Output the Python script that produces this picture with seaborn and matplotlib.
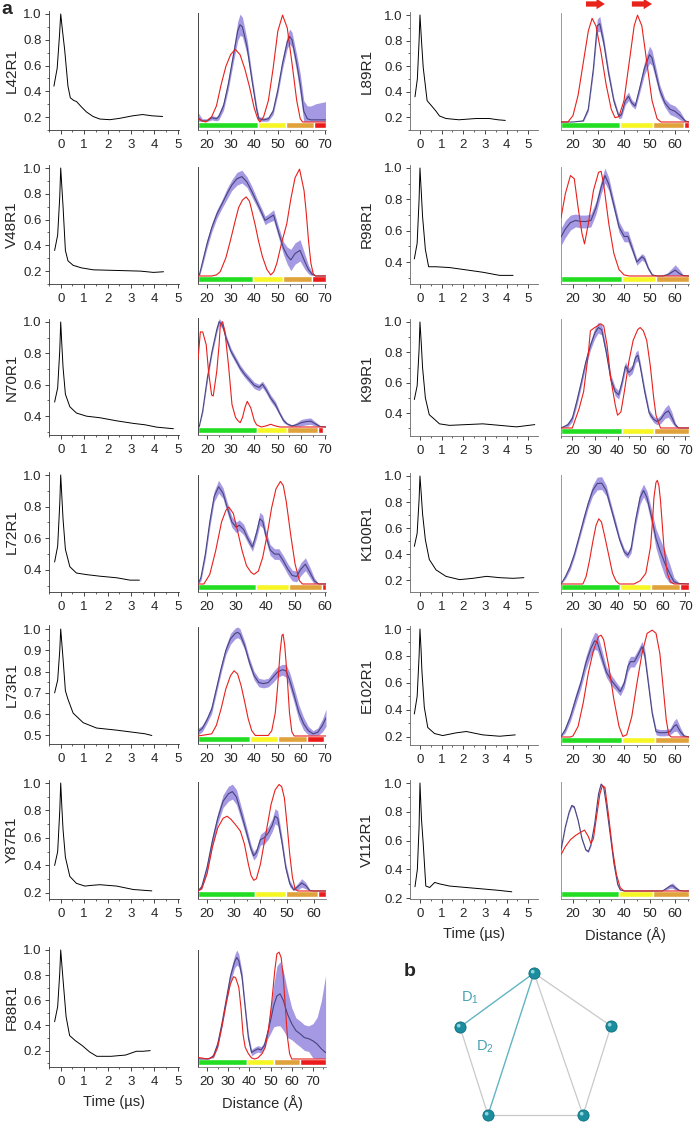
import matplotlib
matplotlib.use("Agg")
import matplotlib.pyplot as plt
from matplotlib.ticker import MultipleLocator
import numpy as np
import seaborn as sns

sns.set_style("ticks")
plt.rcParams['font.family'] = ['Liberation Sans', 'DejaVu Sans']
plt.rcParams['mathtext.default'] = 'regular'

W, H = 697, 1122

# ---------------- data ----------------
# time traces (t in us, normalised signal)
L42_t = [-0.29, -0.15, -0.05, 0.0, 0.07, 0.17, 0.31, 0.41, 0.55, 0.68, 0.88, 1.1, 1.38, 1.67, 2.1, 2.5, 3.07, 3.5, 3.9, 4.35]
L42_v = [0.44, 0.58, 0.84, 1.0, 0.88, 0.72, 0.44, 0.35, 0.33, 0.32, 0.28, 0.24, 0.205, 0.185, 0.18, 0.19, 0.21, 0.22, 0.21, 0.205]
V48_t = [-0.26, -0.13, -0.04, 0.0, 0.05, 0.1, 0.2, 0.31, 0.53, 0.89, 1.39, 2.4, 3.4, 3.96, 4.39]
V48_v = [0.36, 0.48, 0.78, 1.0, 0.85, 0.7, 0.36, 0.28, 0.245, 0.225, 0.21, 0.205, 0.2, 0.19, 0.195]
N70_t = [-0.26, -0.13, -0.04, 0.0, 0.05, 0.1, 0.2, 0.39, 0.67, 1.1, 1.67, 2.4, 3.1, 3.6, 4.1, 4.81]
N70_v = [0.49, 0.58, 0.82, 1.0, 0.85, 0.71, 0.54, 0.46, 0.42, 0.40, 0.39, 0.37, 0.354, 0.345, 0.33, 0.32]
L72_t = [-0.26, -0.13, -0.04, 0.0, 0.05, 0.1, 0.2, 0.39, 0.67, 1.1, 1.67, 2.39, 2.96, 3.36]
L72_v = [0.45, 0.55, 0.82, 1.0, 0.86, 0.72, 0.53, 0.42, 0.38, 0.37, 0.36, 0.35, 0.335, 0.335]
L73_t = [-0.26, -0.13, -0.04, 0.0, 0.05, 0.1, 0.2, 0.31, 0.53, 0.96, 1.53, 2.39, 3.1, 3.6, 3.89]
L73_v = [0.70, 0.76, 0.9, 1.0, 0.93, 0.86, 0.71, 0.67, 0.605, 0.56, 0.535, 0.525, 0.515, 0.508, 0.5]
Y87_t = [-0.26, -0.13, -0.04, 0.0, 0.05, 0.1, 0.2, 0.39, 0.67, 1.03, 1.3, 1.67, 2.39, 3.1, 3.89]
Y87_v = [0.40, 0.5, 0.8, 1.0, 0.82, 0.66, 0.46, 0.32, 0.27, 0.25, 0.255, 0.26, 0.25, 0.225, 0.215]
F88_t = [-0.26, -0.13, -0.04, 0.0, 0.05, 0.11, 0.23, 0.38, 0.62, 0.92, 1.23, 1.54, 2.15, 2.77, 3.23, 3.5, 3.82]
F88_v = [0.43, 0.55, 0.82, 1.0, 0.88, 0.74, 0.47, 0.32, 0.28, 0.24, 0.19, 0.155, 0.155, 0.165, 0.195, 0.195, 0.2]
L89_t = [-0.23, -0.12, -0.04, 0.0, 0.07, 0.15, 0.33, 0.53, 0.73, 0.9, 1.2, 1.8, 2.6, 3.2, 3.6, 3.94]
L89_v = [0.36, 0.5, 0.8, 1.0, 0.8, 0.59, 0.33, 0.29, 0.25, 0.21, 0.19, 0.18, 0.19, 0.19, 0.18, 0.175]
R98_t = [-0.26, -0.13, -0.04, 0.0, 0.06, 0.12, 0.25, 0.4, 0.74, 1.36, 2.14, 2.9, 3.68, 4.3]
R98_v = [0.42, 0.52, 0.8, 1.0, 0.85, 0.69, 0.48, 0.37, 0.37, 0.365, 0.35, 0.335, 0.315, 0.315]
K99_t = [-0.26, -0.13, -0.04, 0.0, 0.06, 0.12, 0.25, 0.43, 0.67, 0.9, 1.36, 2.14, 2.9, 3.68, 4.46, 5.3]
K99_v = [0.49, 0.58, 0.82, 1.0, 0.86, 0.70, 0.5, 0.39, 0.36, 0.33, 0.32, 0.325, 0.33, 0.32, 0.31, 0.325]
K100_t = [-0.26, -0.13, -0.04, 0.0, 0.06, 0.12, 0.25, 0.43, 0.74, 1.2, 1.83, 2.45, 3.07, 3.68, 4.3, 4.8]
K100_v = [0.46, 0.56, 0.82, 1.0, 0.86, 0.71, 0.51, 0.36, 0.28, 0.23, 0.205, 0.215, 0.23, 0.22, 0.215, 0.22]
E102_t = [-0.26, -0.13, -0.04, 0.0, 0.05, 0.09, 0.2, 0.36, 0.67, 1.05, 1.67, 2.14, 2.9, 3.68, 4.4]
E102_v = [0.37, 0.5, 0.8, 1.0, 0.85, 0.69, 0.42, 0.27, 0.225, 0.21, 0.23, 0.24, 0.215, 0.205, 0.215]
V112_t = [-0.23, -0.12, -0.04, 0.0, 0.07, 0.15, 0.27, 0.45, 0.68, 0.9, 1.36, 2.12, 2.88, 3.64, 4.24]
V112_v = [0.28, 0.4, 0.7, 1.0, 0.75, 0.58, 0.285, 0.275, 0.31, 0.30, 0.285, 0.275, 0.265, 0.255, 0.245]

# distance distributions: measured mean (m) with band (e), model in red (rr, ry), class bar edges
L42_r = [16.2, 18, 20, 22, 24, 25, 27, 29, 31, 33, 34, 35, 37, 39, 41, 42, 44, 46, 48, 50, 52, 54, 55, 56, 58, 59.5, 61, 62.5, 64, 66, 68, 70.2]
L42_m = [0.04, 0.01, 0.01, 0.04, 0.03, 0.05, 0.15, 0.35, 0.6, 0.85, 0.91, 0.89, 0.7, 0.4, 0.12, 0.03, 0.02, 0.03, 0.1, 0.3, 0.55, 0.75, 0.8, 0.77, 0.55, 0.35, 0.1, 0.03, 0.02, 0.02, 0.02, 0.02]
L42_e = [0.05, 0.02, 0.02, 0.02, 0.02, 0.03, 0.04, 0.05, 0.06, 0.09, 0.1, 0.09, 0.07, 0.05, 0.04, 0.02, 0.02, 0.02, 0.03, 0.04, 0.05, 0.06, 0.07, 0.07, 0.08, 0.1, 0.1, 0.12, 0.13, 0.15, 0.16, 0.17]
L42_rr = [16.2, 18, 19.5, 22, 24, 26, 28, 30, 32, 34, 36, 38, 40, 41.5, 42.4, 44, 46, 48, 50, 52, 54, 56, 58, 59.5, 60.5, 70.2]
L42_ry = [0.03, 0.01, 0.0, 0.05, 0.15, 0.35, 0.52, 0.63, 0.68, 0.63, 0.5, 0.33, 0.13, 0.03, 0.0, 0.05, 0.2, 0.5, 0.85, 1.0, 0.88, 0.55, 0.2, 0.03, 0.0, 0.0]
L42_bar = [16.2, 41.6, 53.5, 65.3, 70.2]

V48_r = [16.8, 18, 20, 22, 24.2, 26.5, 28.5, 30.5, 32.7, 34.8, 36.9, 39, 41.1, 43, 44.6, 46, 48.2, 50.3, 52.4, 54, 55.5, 57.3, 59.4, 61.5, 63, 64.4, 66, 70.2]
V48_m = [0.01, 0.12, 0.3, 0.45, 0.58, 0.68, 0.77, 0.85, 0.91, 0.93, 0.88, 0.79, 0.69, 0.6, 0.52, 0.54, 0.57, 0.41, 0.26, 0.19, 0.15, 0.21, 0.24, 0.13, 0.06, 0.02, 0.0, 0.0]
V48_e = [0.01, 0.03, 0.04, 0.04, 0.04, 0.04, 0.05, 0.05, 0.06, 0.06, 0.05, 0.05, 0.04, 0.04, 0.04, 0.04, 0.05, 0.05, 0.06, 0.08, 0.1, 0.1, 0.1, 0.07, 0.04, 0.02, 0.0, 0.0]
V48_rr = [16.2, 22, 24, 25.6, 28, 29.9, 32, 33.4, 35, 36.6, 38, 39, 40.5, 41.8, 43.5, 45.4, 47, 48.3, 49.6, 51.5, 53.8, 55.5, 57.3, 59.2, 61.1, 62, 63, 64, 65, 66, 70.2]
V48_ry = [0.0, 0.0, 0.01, 0.04, 0.17, 0.33, 0.52, 0.64, 0.71, 0.74, 0.7, 0.61, 0.47, 0.33, 0.18, 0.06, 0.01, 0.04, 0.12, 0.3, 0.49, 0.72, 0.92, 1.0, 0.8, 0.6, 0.33, 0.12, 0.02, 0.0, 0.0]
V48_bar = [16.2, 39.4, 52, 64.5, 70.2]

N70_r = [16.5, 18, 20, 22, 24, 25, 26.5, 28, 30, 32, 34, 36, 38, 40, 42, 43.5, 45, 47, 49, 51, 52.5, 54, 56, 58, 60, 62, 64, 66, 68, 70.5]
N70_m = [0.0, 0.15, 0.46, 0.71, 0.91, 0.985, 0.95, 0.83, 0.71, 0.63, 0.55, 0.49, 0.44, 0.39, 0.37, 0.40, 0.35, 0.27, 0.21, 0.12, 0.06, 0.03, 0.01, 0.02, 0.04, 0.05, 0.055, 0.03, 0.005, 0.0]
N70_e = [0.0, 0.02, 0.03, 0.03, 0.03, 0.03, 0.03, 0.03, 0.03, 0.03, 0.03, 0.03, 0.03, 0.03, 0.03, 0.03, 0.03, 0.03, 0.03, 0.02, 0.02, 0.01, 0.01, 0.02, 0.03, 0.03, 0.03, 0.02, 0.01, 0.0]
N70_rr = [16, 17, 18, 19.5, 20.5, 21.8, 22.5, 24, 25, 25.5, 26.5, 27.5, 29, 30.5, 32, 33, 34, 35, 36, 37, 38.5, 40, 41, 43, 45, 47, 49, 51, 70.5]
N70_ry = [0.63, 0.89, 0.89, 0.77, 0.52, 0.30, 0.29, 0.52, 0.77, 0.95, 0.985, 0.89, 0.58, 0.21, 0.09, 0.06, 0.04, 0.09, 0.18, 0.24, 0.18, 0.06, 0.02, 0.0, 0.01, 0.025, 0.01, 0.0, 0.0]
N70_bar = [16, 41, 54, 67, 69.5]

L72_r = [17, 18, 19.5, 21, 22.5, 24, 25.5, 27, 28.5, 30, 31, 32.5, 34, 35.5, 37, 38, 39, 40, 41.5, 43, 44.5, 46, 47.5, 49, 50.5, 52, 53.5, 55, 56.5, 58, 60.5]
L72_m = [0.0, 0.06, 0.28, 0.58, 0.82, 0.91, 0.85, 0.71, 0.58, 0.53, 0.55, 0.51, 0.42, 0.345, 0.49, 0.61, 0.585, 0.46, 0.32, 0.28, 0.28, 0.215, 0.14, 0.08, 0.07, 0.14, 0.185, 0.11, 0.03, 0.0, 0.0]
L72_e = [0.0, 0.03, 0.04, 0.05, 0.05, 0.06, 0.05, 0.05, 0.05, 0.05, 0.05, 0.05, 0.04, 0.04, 0.05, 0.06, 0.06, 0.05, 0.05, 0.05, 0.05, 0.05, 0.05, 0.05, 0.05, 0.06, 0.06, 0.05, 0.03, 0.0, 0.0]
L72_rr = [17, 19, 21, 23, 25, 26.5, 27.5, 29, 30.5, 32, 33.5, 35, 36, 37.5, 39, 40.5, 42, 43.5, 45, 46, 47, 48.5, 50, 51.5, 52.5, 60.5]
L72_ry = [0.0, 0.0, 0.09, 0.31, 0.58, 0.69, 0.72, 0.66, 0.49, 0.31, 0.17, 0.11, 0.09, 0.12, 0.25, 0.46, 0.71, 0.89, 0.96, 0.92, 0.77, 0.46, 0.185, 0.03, 0.0, 0.0]
L72_bar = [17, 36.6, 47.8, 59.3, 60.5]

L73_r = [16.2, 18, 20, 22, 24, 26, 28, 30, 32, 33, 34, 36, 38, 40, 42, 44, 46, 48, 50, 52, 53.5, 55, 57, 59, 61, 63, 65, 67, 69, 70.5]
L73_m = [0.04, 0.07, 0.15, 0.25, 0.44, 0.63, 0.80, 0.91, 0.96, 0.97, 0.955, 0.845, 0.69, 0.565, 0.50, 0.49, 0.50, 0.55, 0.60, 0.62, 0.61, 0.53, 0.38, 0.22, 0.115, 0.05, 0.02, 0.035, 0.1, 0.17]
L73_e = [0.03, 0.03, 0.03, 0.04, 0.04, 0.04, 0.04, 0.05, 0.05, 0.05, 0.05, 0.04, 0.04, 0.04, 0.04, 0.04, 0.04, 0.05, 0.05, 0.05, 0.06, 0.07, 0.07, 0.07, 0.06, 0.04, 0.03, 0.04, 0.06, 0.08]
L73_rr = [16.2, 22, 24, 26, 28, 30, 31.5, 33, 34.5, 36, 37.5, 39, 40.5, 46, 47.5, 49, 50, 51, 51.8, 52.3, 53, 54, 55, 56, 57, 70.5]
L73_ry = [0.0, 0.02, 0.1, 0.255, 0.44, 0.565, 0.61, 0.58, 0.47, 0.32, 0.16, 0.05, 0.005, 0.005, 0.05, 0.22, 0.47, 0.78, 0.94, 0.953, 0.845, 0.565, 0.22, 0.04, 0.0, 0.0]
L73_bar = [16.2, 38.2, 50, 62.4, 69.6]

Y87_r = [16.6, 18, 20, 22, 24, 26, 28, 29.5, 31, 33, 35, 36.5, 37.5, 38.5, 40, 41.5, 43, 44.5, 45.5, 46.5, 48, 49.5, 51, 52.5, 54, 55.5, 57, 58.5, 60, 64.5]
Y87_m = [0.0, 0.04, 0.22, 0.47, 0.68, 0.84, 0.91, 0.93, 0.88, 0.71, 0.53, 0.39, 0.33, 0.36, 0.48, 0.50, 0.545, 0.62, 0.70, 0.68, 0.47, 0.22, 0.07, 0.01, 0.04, 0.075, 0.05, 0.005, 0.0, 0.0]
Y87_e = [0.0, 0.02, 0.04, 0.05, 0.05, 0.06, 0.07, 0.07, 0.07, 0.06, 0.05, 0.04, 0.04, 0.04, 0.05, 0.06, 0.06, 0.06, 0.07, 0.07, 0.05, 0.04, 0.03, 0.02, 0.03, 0.04, 0.03, 0.01, 0.0, 0.0]
Y87_rr = [16.6, 18, 20, 22, 24, 26, 27.5, 29, 31, 32.5, 34, 35.5, 36.5, 37.5, 38.5, 40, 42, 44, 45.5, 47, 48, 49, 50, 51, 52, 53, 54, 64.5]
Y87_ry = [0.0, 0.02, 0.16, 0.41, 0.59, 0.68, 0.70, 0.67, 0.61, 0.56, 0.44, 0.25, 0.145, 0.1, 0.115, 0.25, 0.53, 0.81, 0.945, 0.997, 0.975, 0.87, 0.62, 0.345, 0.13, 0.02, 0.0, 0.0]
Y87_bar = [16.6, 38, 49.6, 61.6, 64.5]

F88_r = [15.7, 18, 21, 23, 25, 27, 29, 31, 33, 34, 35, 36.5, 38, 39.5, 41, 42.5, 44, 45.5, 47, 48.5, 50, 51.5, 53, 54.5, 56, 58, 60, 62, 64, 66, 68, 70, 72, 74, 76]
F88_m = [0.0, 0.0, 0.0, 0.03, 0.14, 0.33, 0.55, 0.77, 0.91, 0.95, 0.92, 0.77, 0.48, 0.2, 0.06, 0.08, 0.095, 0.085, 0.125, 0.235, 0.36, 0.5, 0.59, 0.61, 0.55, 0.42, 0.33, 0.265, 0.235, 0.2, 0.19, 0.17, 0.14, 0.095, 0.06]
F88_e = [0.01, 0.01, 0.01, 0.02, 0.03, 0.03, 0.04, 0.05, 0.06, 0.07, 0.06, 0.05, 0.04, 0.04, 0.03, 0.03, 0.03, 0.03, 0.03, 0.05, 0.12, 0.2, 0.28, 0.3, 0.28, 0.22, 0.15, 0.12, 0.12, 0.12, 0.12, 0.16, 0.25, 0.45, 0.72]
F88_rr = [15.7, 20, 23, 25, 27, 29, 31, 32.5, 33.5, 35, 36, 37, 38, 39.5, 41, 42.5, 44, 46, 47.5, 49, 50.5, 52, 53, 54, 55, 56, 57, 58, 59, 60, 76]
F88_ry = [0.015, 0.0, 0.02, 0.11, 0.3, 0.52, 0.7, 0.77, 0.76, 0.67, 0.48, 0.23, 0.11, 0.05, 0.01, 0.0, 0.01, 0.05, 0.11, 0.27, 0.52, 0.83, 0.985, 1.0, 0.95, 0.77, 0.48, 0.2, 0.05, 0.0, 0.0]
F88_bar = [15.7, 39, 51.4, 63.8, 76]

L89_r = [15.3, 20, 24, 26, 28, 29.5, 30.5, 32, 34, 36, 38, 39, 40.5, 41.8, 43, 44.4, 46, 48, 50, 51, 52.5, 54, 56, 58, 60, 62, 64, 65.5]
L89_m = [0.0, 0.0, 0.01, 0.12, 0.5, 0.9, 0.92, 0.75, 0.45, 0.2, 0.05, 0.07, 0.2, 0.24, 0.18, 0.15, 0.3, 0.5, 0.63, 0.6, 0.45, 0.3, 0.18, 0.12, 0.1, 0.06, 0.01, 0.0]
L89_e = [0.0, 0.0, 0.01, 0.02, 0.04, 0.06, 0.07, 0.05, 0.04, 0.03, 0.02, 0.03, 0.04, 0.04, 0.03, 0.03, 0.04, 0.06, 0.08, 0.07, 0.06, 0.05, 0.04, 0.05, 0.05, 0.04, 0.01, 0.0]
L89_rr = [15.3, 18, 20, 22, 24, 26, 27.5, 29, 31, 33, 35, 36.5, 38, 40, 42, 44, 45.3, 47, 49, 51, 53, 54.5, 65.5]
L89_ry = [0.0, 0.0, 0.06, 0.25, 0.55, 0.85, 0.97, 0.9, 0.65, 0.35, 0.12, 0.04, 0.05, 0.2, 0.55, 0.9, 1.0, 0.9, 0.55, 0.2, 0.03, 0.0, 0.0]
L89_bar = [15.3, 38.4, 51.4, 63.5, 65.5]
L89_shift = [(25.1, 32.5), (43.1, 51.0)]

R98_r = [15.3, 17, 19, 21, 23, 25, 27, 29, 31, 32.5, 34, 36, 38, 40, 41.5, 43, 45, 47, 48, 49.5, 51, 53, 55, 57, 59, 60, 61.5, 63, 65.3]
R98_m = [0.365, 0.44, 0.50, 0.52, 0.51, 0.51, 0.52, 0.64, 0.83, 0.94, 0.86, 0.66, 0.46, 0.37, 0.37, 0.27, 0.13, 0.18, 0.16, 0.07, 0.01, 0.0, 0.0, 0.01, 0.04, 0.055, 0.025, 0.005, 0.0]
R98_e = [0.08, 0.08, 0.07, 0.06, 0.06, 0.06, 0.06, 0.06, 0.06, 0.07, 0.06, 0.05, 0.05, 0.05, 0.05, 0.04, 0.03, 0.03, 0.03, 0.02, 0.01, 0.0, 0.01, 0.02, 0.04, 0.05, 0.04, 0.01, 0.0]
R98_rr = [15.3, 17, 19, 20.5, 22, 23.5, 24.5, 26, 28, 30, 31, 32, 34, 36, 38, 40, 42, 65.3]
R98_ry = [0.545, 0.77, 0.94, 0.91, 0.64, 0.40, 0.30, 0.49, 0.80, 0.97, 0.98, 0.86, 0.49, 0.21, 0.06, 0.01, 0.0, 0.0]
R98_bar = [15.3, 39.2, 52.5, 65.3]

K99_r = [15, 18, 20, 22, 24, 26, 28, 30, 31.5, 33, 35, 37, 39, 40.5, 42, 43.5, 45, 46.5, 48, 49, 50, 52, 54, 56, 57.5, 59, 61, 62.5, 64, 65.5, 67, 71.5]
K99_m = [0.0, 0.03, 0.09, 0.25, 0.43, 0.62, 0.77, 0.89, 0.94, 0.92, 0.71, 0.46, 0.34, 0.31, 0.43, 0.58, 0.52, 0.55, 0.66, 0.68, 0.58, 0.34, 0.14, 0.08, 0.06, 0.08, 0.14, 0.16, 0.1, 0.03, 0.0, 0.0]
K99_e = [0.0, 0.02, 0.03, 0.04, 0.04, 0.04, 0.04, 0.05, 0.05, 0.05, 0.04, 0.04, 0.04, 0.04, 0.04, 0.04, 0.04, 0.04, 0.05, 0.05, 0.04, 0.04, 0.03, 0.03, 0.03, 0.04, 0.05, 0.06, 0.05, 0.02, 0.0, 0.0]
K99_rr = [15, 20, 21, 23, 25, 27, 28, 29.9, 32.6, 33.9, 35.4, 37, 39, 40, 41.5, 43, 45, 46.9, 48.9, 50, 51.4, 52.9, 54.5, 56, 57, 58, 59, 71.5]
K99_ry = [0.0, 0.0, 0.06, 0.18, 0.34, 0.68, 0.91, 0.94, 0.975, 0.955, 0.77, 0.46, 0.215, 0.12, 0.15, 0.34, 0.62, 0.82, 0.92, 0.94, 0.91, 0.82, 0.58, 0.28, 0.12, 0.06, 0.0, 0.0]
K99_bar = [15, 42, 56, 71.5]

K100_r = [15, 17, 19, 21, 23, 25, 27, 29, 31, 33, 35, 37, 39, 41, 43, 44.5, 46, 48, 50, 51.5, 53, 55, 57, 59, 61, 63, 65, 67, 71.5]
K100_m = [0.0, 0.07, 0.16, 0.285, 0.44, 0.6, 0.75, 0.875, 0.94, 0.944, 0.875, 0.72, 0.565, 0.41, 0.30, 0.27, 0.33, 0.6, 0.81, 0.875, 0.81, 0.63, 0.425, 0.30, 0.19, 0.1, 0.02, 0.005, 0.0]
K100_e = [0.0, 0.02, 0.03, 0.03, 0.03, 0.04, 0.04, 0.05, 0.06, 0.06, 0.05, 0.04, 0.04, 0.03, 0.03, 0.03, 0.04, 0.05, 0.06, 0.06, 0.06, 0.07, 0.09, 0.11, 0.12, 0.09, 0.04, 0.01, 0.0]
K100_rr = [15, 24.7, 26.1, 27.6, 29.1, 30.5, 31.7, 32.9, 34.3, 35.8, 37.8, 39.3, 40.8, 47.3, 50, 52.5, 54.6, 55.5, 56.1, 57, 57.6, 58.3, 59, 60.5, 62, 63.4, 65, 71.5]
K100_ry = [0.0, 0.0, 0.07, 0.22, 0.4, 0.55, 0.61, 0.58, 0.45, 0.3, 0.1, 0.03, 0.0, 0.0, 0.03, 0.1, 0.35, 0.6, 0.81, 0.95, 0.97, 0.92, 0.78, 0.35, 0.1, 0.02, 0.0, 0.0]
K100_bar = [15, 41, 54.6, 67.8, 71.5]

E102_r = [15.3, 17, 19, 21, 23, 25, 27, 28.5, 29.5, 31, 33, 35, 37, 38.5, 40, 41.5, 42.5, 44, 45.5, 47, 48, 49.5, 51, 52.5, 54, 56, 58, 59.5, 60.5, 62, 63.5, 65.3]
E102_m = [0.005, 0.07, 0.19, 0.35, 0.5, 0.69, 0.83, 0.9, 0.89, 0.77, 0.61, 0.53, 0.47, 0.425, 0.5, 0.66, 0.705, 0.705, 0.77, 0.845, 0.78, 0.5, 0.22, 0.05, 0.04, 0.04, 0.05, 0.1, 0.115, 0.05, 0.01, 0.0]
E102_e = [0.01, 0.03, 0.04, 0.05, 0.05, 0.06, 0.07, 0.08, 0.08, 0.07, 0.05, 0.05, 0.04, 0.04, 0.04, 0.05, 0.05, 0.05, 0.05, 0.05, 0.05, 0.04, 0.03, 0.03, 0.03, 0.03, 0.03, 0.05, 0.06, 0.04, 0.01, 0.0]
E102_rr = [15.3, 19, 20, 22, 24, 26, 28, 30, 31, 32, 34, 36, 38, 39.5, 41, 43, 45, 47, 49, 51, 52.5, 54, 55.5, 56.5, 57.5, 58.5, 65.3]
E102_ry = [0.0, 0.0, 0.01, 0.1, 0.32, 0.6, 0.81, 0.94, 0.953, 0.91, 0.66, 0.35, 0.1, 0.005, 0.02, 0.19, 0.5, 0.78, 0.97, 1.0, 0.97, 0.78, 0.41, 0.16, 0.02, 0.0, 0.0]
E102_bar = [15.3, 39.2, 52.2, 65.3]

V112_r = [15.3, 17, 18.5, 19.5, 20.5, 22, 23.5, 25, 26, 27, 28.5, 30, 31, 32, 33, 34.5, 36, 37.5, 38.5, 40, 55, 56, 58, 59, 60, 61.5, 63, 65.3]
V112_m = [0.385, 0.6, 0.74, 0.80, 0.785, 0.66, 0.49, 0.385, 0.37, 0.43, 0.63, 0.91, 1.0, 0.97, 0.815, 0.54, 0.26, 0.06, 0.01, 0.0, 0.0, 0.015, 0.046, 0.05, 0.03, 0.006, 0.0, 0.0]
V112_e = [0.01, 0.01, 0.012, 0.012, 0.012, 0.01, 0.01, 0.01, 0.01, 0.01, 0.01, 0.012, 0.012, 0.012, 0.01, 0.01, 0.01, 0.01, 0.005, 0.0, 0.0, 0.01, 0.02, 0.025, 0.02, 0.01, 0.0, 0.0]
V112_rr = [15.3, 17, 19, 21, 23, 24.5, 26, 27, 28, 29, 30.5, 31.5, 32.5, 34, 35.5, 37, 38.5, 40, 65.3]
V112_ry = [0.34, 0.415, 0.48, 0.52, 0.55, 0.57, 0.51, 0.445, 0.49, 0.66, 0.905, 0.985, 0.97, 0.69, 0.385, 0.154, 0.03, 0.0, 0.0]
V112_bar = [15.3, 38, 51.4, 65.3]

# panel b: sphere positions (figure pixels) and edges
node_x = [534, 460, 611, 488, 583]
node_y = [973, 1027, 1026, 1115, 1115]
grey_edges = [(1, 3), (3, 4), (4, 2), (2, 0), (0, 4)]
teal_edges = [(0, 1), (0, 3)]

# ---------------- drawing ----------------
BAR_COLORS = ['#22dd22', '#f6f625', '#e0a23b', '#ec1b1b']
BAND = '#9d8ee0'
MEAN = '#45457f'
RED = '#e8201c'
TICK_FS = 9.5
LAB_FS = 10.5
NAME_FS = 11

fig = plt.figure(figsize=(W / 100, H / 100), dpi=100)


def px_axes(left, top, width, height):
    return fig.add_axes([left / W, 1 - (top + height) / H, width / W, height / H])


def style_ticks(ax):
    ax.tick_params(which='major', direction='out', length=2.6, width=0.6, labelsize=TICK_FS)
    ax.tick_params(which='minor', direction='out', length=1.5, width=0.5)
    ax.tick_params(axis='x', pad=4)
    ax.tick_params(axis='y', pad=2.5)


def time_panel(left, width, xlim, row_top, bottom, t, v, ymin, ystep, name, lab_x, spine_c, last):
    ymax = 1.02
    ppu = (bottom - row_top) / (1 - ymin)
    top = row_top - (ymax - 1) * ppu
    ax = px_axes(left, top, width, bottom - top)
    sns.lineplot(x=t, y=v, ax=ax, color='black', lw=0.7, estimator=None, sort=False)
    ax.set_xlim(*xlim)
    ax.set_ylim(ymin, ymax)
    ax.set_xticks(range(0, 6))
    ax.xaxis.set_minor_locator(MultipleLocator(0.5))
    ticks = [round(1.0 - k * ystep, 2) for k in range(10) if 1.0 - k * ystep >= ymin - 1e-9]
    ax.set_yticks(ticks)
    ax.set_yticklabels([f'{y:.1f}' for y in ticks])
    ax.yaxis.set_minor_locator(MultipleLocator(ystep / 2))
    sns.despine(ax=ax)
    for s in ('left', 'bottom'):
        ax.spines[s].set_linewidth(0.6)
        ax.spines[s].set_color(spine_c)
    style_ticks(ax)
    ax.set_ylabel(name, fontsize=NAME_FS)
    ax.yaxis.set_label_coords(lab_x, 0.5)
    if last:
        ax.set_xlabel('Time (µs)', fontsize=LAB_FS, labelpad=5)
    return ax


def dist_panel(left, bottom, dlim, r, m, e, rr, ry, bar, spine_c, last):
    ax = px_axes(left, bottom - 117, 128, 117)
    r = np.array(r); m = np.array(m); e = np.array(e)
    ax.fill_between(r, np.clip(m - e, 0, None), m + e, color=BAND, lw=0, alpha=0.9, zorder=1)
    sns.lineplot(x=r, y=m, ax=ax, color=MEAN, lw=0.8, estimator=None, sort=False, zorder=3)
    sns.lineplot(x=rr, y=ry, ax=ax, color=RED, lw=0.8, estimator=None, sort=False, zorder=4)
    segs = [(bar[i], bar[i + 1] - bar[i]) for i in range(len(bar) - 1)]
    ax.broken_barh(segs, (-0.059, 0.059), facecolors=BAR_COLORS[:len(segs)], zorder=2)
    ax.set_xlim(*dlim)
    ax.set_ylim(-0.075, 1.02)
    ax.set_yticks([])
    ax.set_xticks(range(20, int(dlim[1]) + 1, 10))
    ax.xaxis.set_minor_locator(MultipleLocator(5))
    sns.despine(ax=ax)
    ax.spines['left'].set_color(spine_c)
    ax.spines['left'].set_linewidth(0.7)
    ax.spines['bottom'].set_color('#777777')
    ax.spines['bottom'].set_linewidth(0.6)
    style_ticks(ax)
    if last:
        ax.set_xlabel('Distance (Å)', fontsize=LAB_FS, labelpad=5)
    return ax


left_rows = [
    dict(name='L42R1', t=L42_t, v=L42_v, top=14, bottom=130, ymin=0.1, ystep=0.2,
         r=L42_r, m=L42_m, e=L42_e, rr=L42_rr, ry=L42_ry, bar=L42_bar, dlim=(16.2, 70.4)),
    dict(name='V48R1', t=V48_t, v=V48_v, top=168, bottom=284, ymin=0.1, ystep=0.2,
         r=V48_r, m=V48_m, e=V48_e, rr=V48_rr, ry=V48_ry, bar=V48_bar, dlim=(16.2, 70.4)),
    dict(name='N70R1', t=N70_t, v=N70_v, top=322, bottom=435, ymin=0.28, ystep=0.2,
         r=N70_r, m=N70_m, e=N70_e, rr=N70_rr, ry=N70_ry, bar=N70_bar, dlim=(16.0, 70.6)),
    dict(name='L72R1', t=L72_t, v=L72_v, top=475, bottom=592, ymin=0.26, ystep=0.2,
         r=L72_r, m=L72_m, e=L72_e, rr=L72_rr, ry=L72_ry, bar=L72_bar, dlim=(17.0, 60.5)),
    dict(name='L73R1', t=L73_t, v=L73_v, top=629, bottom=744, ymin=0.46, ystep=0.1,
         r=L73_r, m=L73_m, e=L73_e, rr=L73_rr, ry=L73_ry, bar=L73_bar, dlim=(16.2, 70.5)),
    dict(name='Y87R1', t=Y87_t, v=Y87_v, top=783, bottom=899, ymin=0.156, ystep=0.2,
         r=Y87_r, m=Y87_m, e=Y87_e, rr=Y87_rr, ry=Y87_ry, bar=Y87_bar, dlim=(16.6, 64.6)),
    dict(name='F88R1', t=F88_t, v=F88_v, top=950, bottom=1067, ymin=0.07, ystep=0.2,
         r=F88_r, m=F88_m, e=F88_e, rr=F88_rr, ry=F88_ry, bar=F88_bar, dlim=(15.7, 76.2)),
]

right_rows = [
    dict(name='L89R1', t=L89_t, v=L89_v, top=15, bottom=130, ymin=0.1, ystep=0.2,
         r=L89_r, m=L89_m, e=L89_e, rr=L89_rr, ry=L89_ry, bar=L89_bar, dlim=(15.3, 65.5)),
    dict(name='R98R1', t=R98_t, v=R98_v, top=168, bottom=284, ymin=0.26, ystep=0.2,
         r=R98_r, m=R98_m, e=R98_e, rr=R98_rr, ry=R98_ry, bar=R98_bar, dlim=(15.3, 65.4)),
    dict(name='K99R1', t=K99_t, v=K99_v, top=322, bottom=436, ymin=0.25, ystep=0.2,
         r=K99_r, m=K99_m, e=K99_e, rr=K99_rr, ry=K99_ry, bar=K99_bar, dlim=(15.0, 71.6)),
    dict(name='K100R1', t=K100_t, v=K100_v, top=476, bottom=592, ymin=0.11, ystep=0.2,
         r=K100_r, m=K100_m, e=K100_e, rr=K100_rr, ry=K100_ry, bar=K100_bar, dlim=(15.0, 71.6)),
    dict(name='E102R1', t=E102_t, v=E102_v, top=629, bottom=745, ymin=0.14, ystep=0.2,
         r=E102_r, m=E102_m, e=E102_e, rr=E102_rr, ry=E102_ry, bar=E102_bar, dlim=(15.3, 65.4)),
    dict(name='V112R1', t=V112_t, v=V112_v, top=783, bottom=899, ymin=0.195, ystep=0.2,
         r=V112_r, m=V112_m, e=V112_e, rr=V112_rr, ry=V112_ry, bar=V112_bar, dlim=(15.3, 65.4)),
]

for i, p in enumerate(left_rows):
    last = i == len(left_rows) - 1
    time_panel(49, 130, (-0.5, 5.05), p['top'], p['bottom'], p['t'], p['v'],
               p['ymin'], p['ystep'], p['name'], -0.235, '#333333', last)
    dist_panel(198, p['bottom'], p['dlim'], p['r'], p['m'], p['e'], p['rr'], p['ry'],
               p['bar'], '#444444', last)

dist_axes = []
for i, p in enumerate(right_rows):
    last = i == len(right_rows) - 1
    time_panel(410, 128, (-0.46, 5.45), p['top'], p['bottom'], p['t'], p['v'],
               p['ymin'], p['ystep'], p['name'], -0.285, '#666666', last)
    dist_axes.append(dist_panel(561, p['bottom'], p['dlim'], p['r'], p['m'], p['e'],
                                p['rr'], p['ry'], p['bar'], '#999999', last))

# red arrows over L89R1 (shift of the two peaks)
for x0, x1 in L89_shift:
    dist_axes[0].annotate('', xy=(x1, 1.077), xytext=(x0, 1.077),
                          xycoords=('data', 'axes fraction'), textcoords=('data', 'axes fraction'),
                          arrowprops=dict(arrowstyle='simple,head_length=0.6,head_width=0.75,tail_width=0.38',
                                          color='#e8231c', lw=0, shrinkA=0, shrinkB=0,
                                          mutation_scale=10),
                          annotation_clip=False)

# panel b: pentagon
axb = px_axes(400, 950, 297, 172)
axb.set_xlim(400, 697)
axb.set_ylim(1122, 950)
axb.axis('off')
for a, b in grey_edges:
    axb.plot([node_x[a], node_x[b]], [node_y[a], node_y[b]], color='#c9c9c9', lw=0.9, zorder=1)
for a, b in teal_edges:
    axb.plot([node_x[a], node_x[b]], [node_y[a], node_y[b]], color='#62b4c4', lw=1.0, zorder=1)
sns.scatterplot(x=node_x, y=node_y, ax=axb, s=65, color='#1b8d9e', edgecolor='#10707d',
                linewidth=0.6, zorder=3)
axb.scatter(np.array(node_x) - 1.3, np.array(node_y) - 1.3, s=7, color='#8fd6df',
            edgecolor='none', zorder=4)
axb.text(470, 998, 'D$_1$', color='#4aa0b2', fontsize=10.5, ha='center', va='center')
axb.text(485, 1047, 'D$_2$', color='#4aa0b2', fontsize=10.5, ha='center', va='center')

fig.text(1 / W, 1 - 1 / H, 'a', fontsize=14, fontweight='bold', ha='left', va='top')
fig.text(404 / W, 1 - 963 / H, 'b', fontsize=14, fontweight='bold', ha='left', va='top')

fig.savefig('out.png', dpi=100)
